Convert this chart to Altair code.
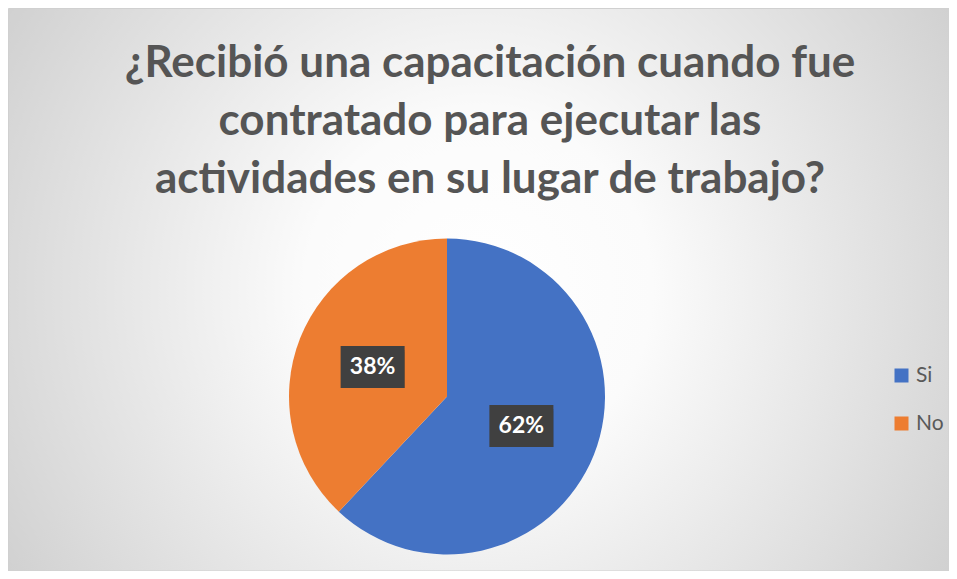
import math
import altair as alt
import pandas as pd

TITLE_LINES = [
    "¿Recibió una capacitación cuando fue",
    "contratado para ejecutar las",
    "actividades en su lugar de trabajo?",
]
CATEGORIES = ["Si", "No"]
VALUES = [62, 38]
COLORS = ["#4472C4", "#ED7D31"]

W, H = 941, 563
CX, CY, R = 439, 388.5, 158
LR = 80
BW, BH = 64, 42

total = sum(VALUES)
rows = []
cum = 0
for i, (c, v) in enumerate(zip(CATEGORIES, VALUES)):
    mid = (cum + v / 2) / total * 2 * math.pi
    cum += v
    lx = CX + LR * math.sin(mid)
    ly = CY - LR * math.cos(mid)
    rows.append(dict(cat=c, val=v, idx=i, label=f"{round(v / total * 100)}%",
                     lx=lx, ly=ly, bx1=lx - BW / 2, bx2=lx + BW / 2,
                     by1=ly - BH / 2, by2=ly + BH / 2))
df = pd.DataFrame(rows)
one = pd.DataFrame({"a": [0]})

xs = alt.Scale(domain=[0, W], range=[0, W], nice=False, zero=False)
ys = alt.Scale(domain=[0, H], range=[0, H], nice=False, zero=False)

bg = alt.Chart(one).mark_rect(
    fill=alt.Gradient(
        gradient="radial",
        stops=[alt.GradientStop(offset=0, color="#ffffff"),
               alt.GradientStop(offset=0.25, color="#fbfbfb"),
               alt.GradientStop(offset=1, color="#c0c0c0")],
        x1=0.5, y1=0.5, r1=0, x2=0.5, y2=0.5, r2=0.74),
    stroke="#d0d0d0", strokeWidth=1,
).encode(x=alt.value(0.5), x2=alt.value(W), y=alt.value(0.5), y2=alt.value(H))

title = alt.Chart(one).mark_text(
    font="Lato", fontWeight="bold", fontSize=44, color="#555555",
    align="center", baseline="alphabetic", lineHeight=58,
).encode(x=alt.value(482), y=alt.value(69), text=alt.value(TITLE_LINES))

pie = alt.Chart(df).mark_arc(outerRadius=R).encode(
    theta=alt.Theta("val:Q", stack=True),
    order=alt.Order("idx:O"),
    color=alt.Color("cat:N", sort=CATEGORIES,
                    scale=alt.Scale(domain=CATEGORIES, range=COLORS),
                    legend=alt.Legend(title=None, orient="none", legendX=883, legendY=357,
                                      symbolType="square", symbolSize=196,
                                      symbolStrokeWidth=0, labelFont="Lato",
                                      labelFontSize=21, labelColor="#595959",
                                      rowPadding=26, labelOffset=4, padding=0)),
    x=alt.value(CX), y=alt.value(CY),
)

enc_box = dict(
    x=alt.X("bx1:Q", scale=xs, axis=None), x2="bx2:Q",
    y=alt.Y("by1:Q", scale=ys, axis=None), y2="by2:Q",
)
shadow2 = alt.Chart(df).mark_rect(color="#000000", opacity=0.10, xOffset=5, yOffset=6).encode(**enc_box)
shadow1 = alt.Chart(df).mark_rect(color="#000000", opacity=0.22, xOffset=3, yOffset=4).encode(**enc_box)
box = alt.Chart(df).mark_rect(color="#404040").encode(**enc_box)
txt = alt.Chart(df).mark_text(
    font="Lato", fontWeight="bold", fontSize=23, color="#ffffff",
    align="center", baseline="middle",
).encode(
    x=alt.X("lx:Q", scale=xs, axis=None),
    y=alt.Y("ly:Q", scale=ys, axis=None),
    text="label:N",
)

chart = alt.layer(bg, title, pie, shadow2, shadow1, box, txt).properties(
    width=W, height=H, padding=0, autosize=alt.AutoSizeParams(type="none"),
    background="#ffffff",
).configure_view(stroke=None)

chart.save("out.html", embed_options={"renderer": "svg", "actions": False})
